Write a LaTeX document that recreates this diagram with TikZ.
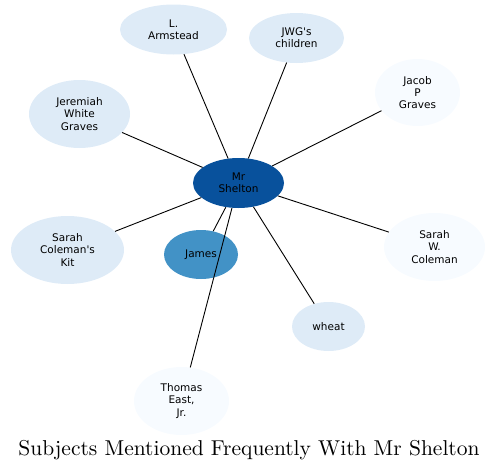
\documentclass[tikz,border=0pt]{standalone}
\usepackage{fontspec}
\usetikzlibrary{shapes.geometric}
\newfontfamily\lab{DejaVu Sans}
\newfontfamily\ttlfont{lmroman10-regular.otf}
\definecolor{cdark}{HTML}{08519C}
\definecolor{cmid}{HTML}{4292C6}
\definecolor{clight}{HTML}{DEEBF7}
\definecolor{cpale}{HTML}{F7FBFF}
\tikzset{
  ent/.style={ellipse, inner sep=0pt, align=center, draw=none,
    font=\lab\fontsize{10.5}{12.2}\selectfont, text=black},
  link/.style={draw=black, line width=0.9pt},
}
\begin{document}
\begin{tikzpicture}[x=1pt, y=-1pt]
\useasboundingbox (0,0) rectangle (497,471);
\node[ent, fill=cdark, minimum width=91pt, minimum height=50pt] (ms) at (238.5,183) {Mr\\Shelton};
\node[ent, fill=clight, minimum width=107pt, minimum height=50pt] (la) at (173.5,29.5) {L.\\Armstead};
\node[ent, fill=clight, minimum width=95pt, minimum height=50pt] (jc) at (296.5,38) {JWG's\\children};
\node[ent, fill=cpale, minimum width=85pt, minimum height=67pt] (jp) at (417.5,92.5) {Jacob\\P\\Graves};
\node[ent, fill=clight, minimum width=101pt, minimum height=68pt] (jw) at (79.5,114) {Jeremiah\\White\\Graves};
\node[ent, fill=clight, minimum width=113pt, minimum height=68pt] (sk) at (67.5,250) {Sarah\\Coleman's\\Kit};
\node[ent, fill=cmid, minimum width=74pt, minimum height=49pt] (ja) at (201,254.5) {James};
\node[ent, fill=cpale, minimum width=101pt, minimum height=68pt] (sw) at (434.5,247) {Sarah\\W.\\Coleman};
\node[ent, fill=clight, minimum width=73pt, minimum height=49pt] (wh) at (328.5,326.5) {wheat};
\node[ent, fill=cpale, minimum width=95pt, minimum height=68pt] (te) at (181.5,401) {Thomas\\East,\\Jr.};
\draw[link] (ms) -- (la);
\draw[link] (ms) -- (jc);
\draw[link] (ms) -- (jp);
\draw[link] (ms) -- (jw);
\draw[link] (ms) -- (sk);
\draw[link] (ms) -- (ja);
\draw[link] (ms) -- (sw);
\draw[link] (ms) -- (wh);
\draw[link] (ms) -- (te);
\node[anchor=base, inner sep=0pt, font=\ttlfont\fontsize{21.5}{24}\selectfont] (title) at (249,455) {Subjects Mentioned Frequently With Mr Shelton};
\end{tikzpicture}
\end{document}
